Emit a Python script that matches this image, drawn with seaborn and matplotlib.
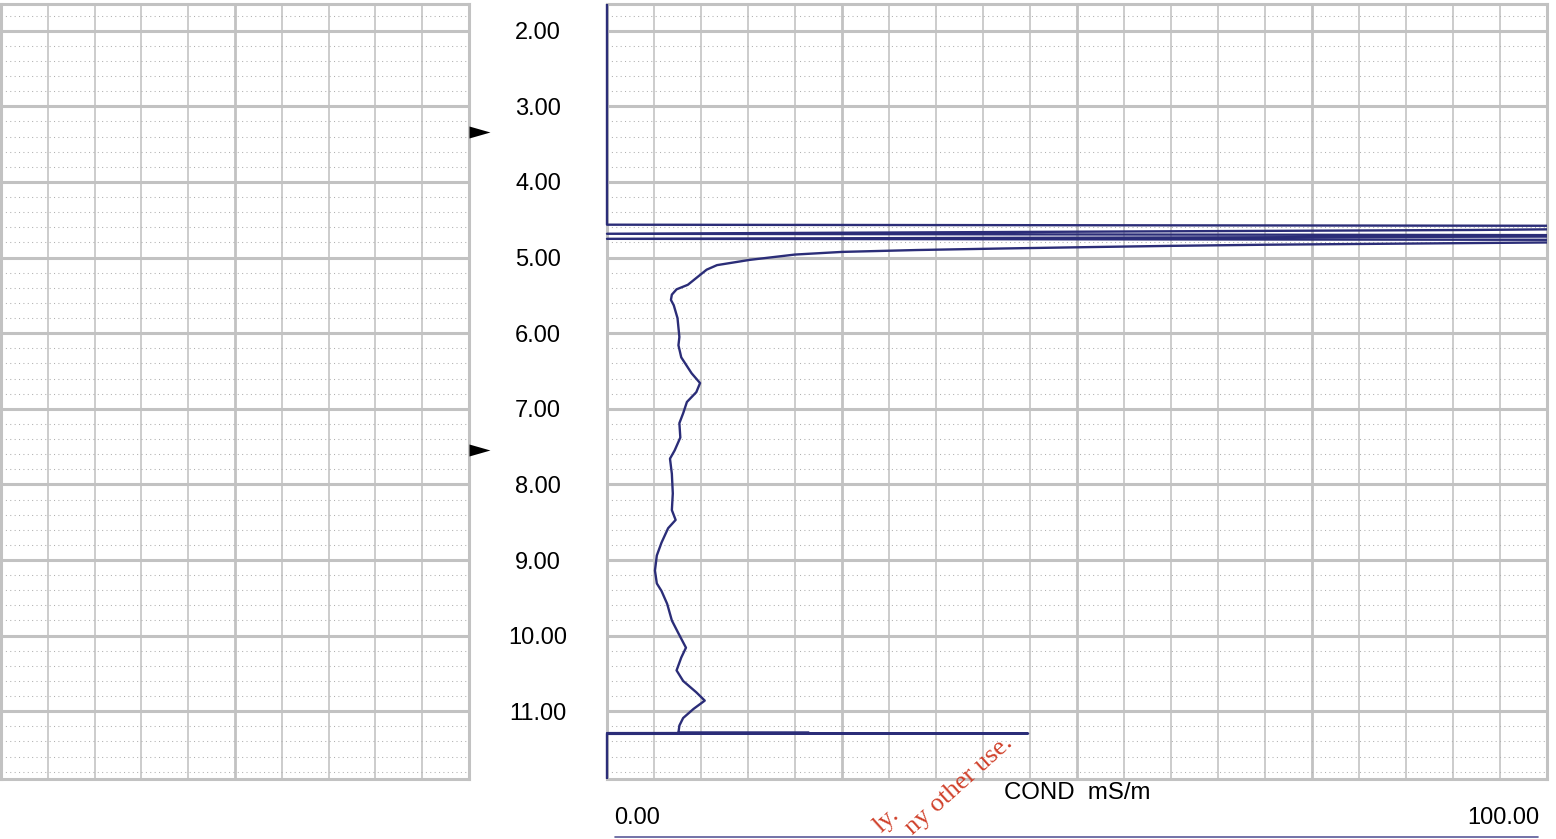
import numpy as np
import pandas as pd
import matplotlib
matplotlib.use("Agg")
import matplotlib.pyplot as plt
from matplotlib.lines import Line2D
from matplotlib.patches import Rectangle
import seaborn as sns

# ---------------- data ----------------
depth_m = [1.65, 4.565, 4.585, 4.635, 4.685, 4.71, 4.752, 4.77, 4.80, 4.815,
           4.83, 4.845, 4.86, 4.88, 4.90, 4.925, 4.96, 5.03, 5.10, 5.16,
           5.23, 5.36, 5.42, 5.49, 5.56, 5.63, 5.80, 6.05, 6.16, 6.32,
           6.53, 6.66, 6.78, 6.91, 7.06, 7.19, 7.38, 7.55, 7.66, 7.86,
           8.12, 8.34, 8.47, 8.58, 8.77, 8.94, 9.14, 9.31, 9.41, 9.58,
           9.80, 9.97, 10.16, 10.29, 10.46, 10.60, 10.75, 10.86, 10.97, 11.09,
           11.19, 11.283, 11.286, 11.29, 11.295, 11.30, 11.89]
cond_mS_m = [0, 0, 140, 92, 0, 140, 0, 140, 100, 85,
             70, 60, 52, 42, 33, 25, 20, 15.2, 11.7, 10.6,
             9.9, 8.6, 7.4, 6.9, 6.8, 7.1, 7.5, 7.7, 7.6, 7.9,
             9.0, 9.9, 9.5, 8.5, 8.1, 7.7, 7.8, 7.2, 6.7, 6.9,
             7.0, 6.9, 7.3, 6.5, 5.8, 5.3, 5.1, 5.3, 5.8, 6.4,
             6.9, 7.6, 8.4, 7.9, 7.4, 8.1, 9.5, 10.4, 9.2, 8.1,
             7.7, 7.6, 21.5, 0, 44.8, 0, 0]
water_level_depths = [3.34, 7.55]
depth_ticks = [2, 3, 4, 5, 6, 7, 8, 9, 10, 11]
depth_tick_labels = ["2.00", "3.00", "4.00", "5.00", "6.00", "7.00",
                     "8.00", "9.00", "10.00", "11.00"]
scale_min_label = "0.00"
scale_max_label = "100.00"
curve_title = "COND  mS/m"
watermark_lines = ["ly.", "ny other use."]
depth_top, depth_bottom = 1.65, 11.89
scale_min, scale_max = 0, 100

df = pd.DataFrame({"depth": depth_m, "cond": cond_mS_m})

# ---------------- style ----------------
sns.set_theme(style="white")
plt.rcParams["font.family"] = ["Liberation Sans", "DejaVu Sans"]

W, H = 1556, 839
fig = plt.figure(figsize=(W / 100, H / 100), dpi=100)
fig.patch.set_facecolor("white")

top_px, bot_px = 4.3, 778.5
ax_l = fig.add_axes([1 / W, 1 - bot_px / H, 468 / W, (bot_px - top_px) / H])
ax_r = fig.add_axes([607 / W, 1 - bot_px / H, 940 / W, (bot_px - top_px) / H])

GRID = "#c2c2c2"
DOT = "#b0b0b0"
NAVY = "#2b2d78"
FS = 17


def style_track(ax, major_x, minor_x):
    ax.set_xlim(scale_min, scale_max)
    ax.set_ylim(depth_bottom, depth_top)
    ax.set_facecolor("white")
    ax.set_axisbelow(True)
    ax.set_xticks(major_x)
    ax.set_xticks(minor_x, minor=True)
    ax.set_yticks(depth_ticks)
    ax.set_yticks(np.round(np.arange(1.8, 11.9, 0.2), 2), minor=True)
    ax.grid(which="major", axis="y", color=GRID, linewidth=2.2, linestyle="-")
    ax.grid(which="minor", axis="y", color=DOT, linewidth=0.75,
            linestyle=(0, (1, 3.2)))
    ax.grid(which="major", axis="x", color=GRID, linewidth=2.0, linestyle="-")
    ax.grid(which="minor", axis="x", color="#c8c8c8", linewidth=1.3,
            linestyle="-")
    ax.tick_params(which="both", length=0, labelbottom=False, labelleft=False)
    for s in ax.spines.values():
        s.set_color(GRID)
        s.set_linewidth(2.2)
        s.set_visible(True)


style_track(ax_l, [50], [10, 20, 30, 40, 60, 70, 80, 90])
style_track(ax_r, [25, 50, 75],
            [v for v in range(5, 100, 5) if v % 25 != 0])

# depth labels between the tracks (centred in the gap)
ax_r.set_yticklabels(depth_tick_labels)
ax_r.tick_params(axis="y", which="major", labelleft=True, pad=49.5,
                 labelsize=FS, labelcolor="black")
for lab in ax_r.get_yticklabels():
    lab.set_horizontalalignment("center")

# conductivity curve
sns.lineplot(data=df, x="cond", y="depth", sort=False, estimator=None,
             ax=ax_r, color=NAVY, linewidth=1.7, legend=False)
curve = ax_r.lines[-1]
curve.set_zorder(3)
curve.set_clip_path(Rectangle((-0.004, 0), 1.004, 1, transform=ax_r.transAxes))
ax_r.set_xlabel("")
ax_r.set_ylabel("")
ax_r.set_xlim(scale_min, scale_max)
ax_r.set_ylim(depth_bottom, depth_top)

# water-level markers at right edge of left track
tri = [(0, -6), (21, 0), (0, 6), (0, -6)]
for d in water_level_depths:
    ax_l.plot([scale_max], [d], marker=tri, markersize=30.2, color="black",
              markeredgewidth=0, linestyle="none", clip_on=False, zorder=5)

# footer (curve header)
fig.text(1077 / W, 1 - 793 / H, curve_title, ha="center", va="center",
         fontsize=FS + 0.3, color="black")
fig.text(614 / W, 1 - 818 / H, scale_min_label, ha="left", va="center",
         fontsize=FS, color="black")
fig.text(1539 / W, 1 - 818 / H, scale_max_label, ha="right", va="center",
         fontsize=FS, color="black")
fig.add_artist(Line2D([615 / W, 1538 / W], [1 - 837 / H, 1 - 837 / H],
                      transform=fig.transFigure, color="#5a5a98",
                      linewidth=1.2))

# watermark (visible fragments)
wm_kw = dict(rotation=42, rotation_mode="anchor", ha="right", va="baseline",
             color="#d0402a", fontsize=19, family=["Liberation Serif"])
fig.text(900 / W, 1 - 816 / H, watermark_lines[0], **wm_kw)
fig.text(1014 / W, 1 - 744 / H, watermark_lines[1], **wm_kw)

fig.savefig("out.png", dpi=100, facecolor="white")
